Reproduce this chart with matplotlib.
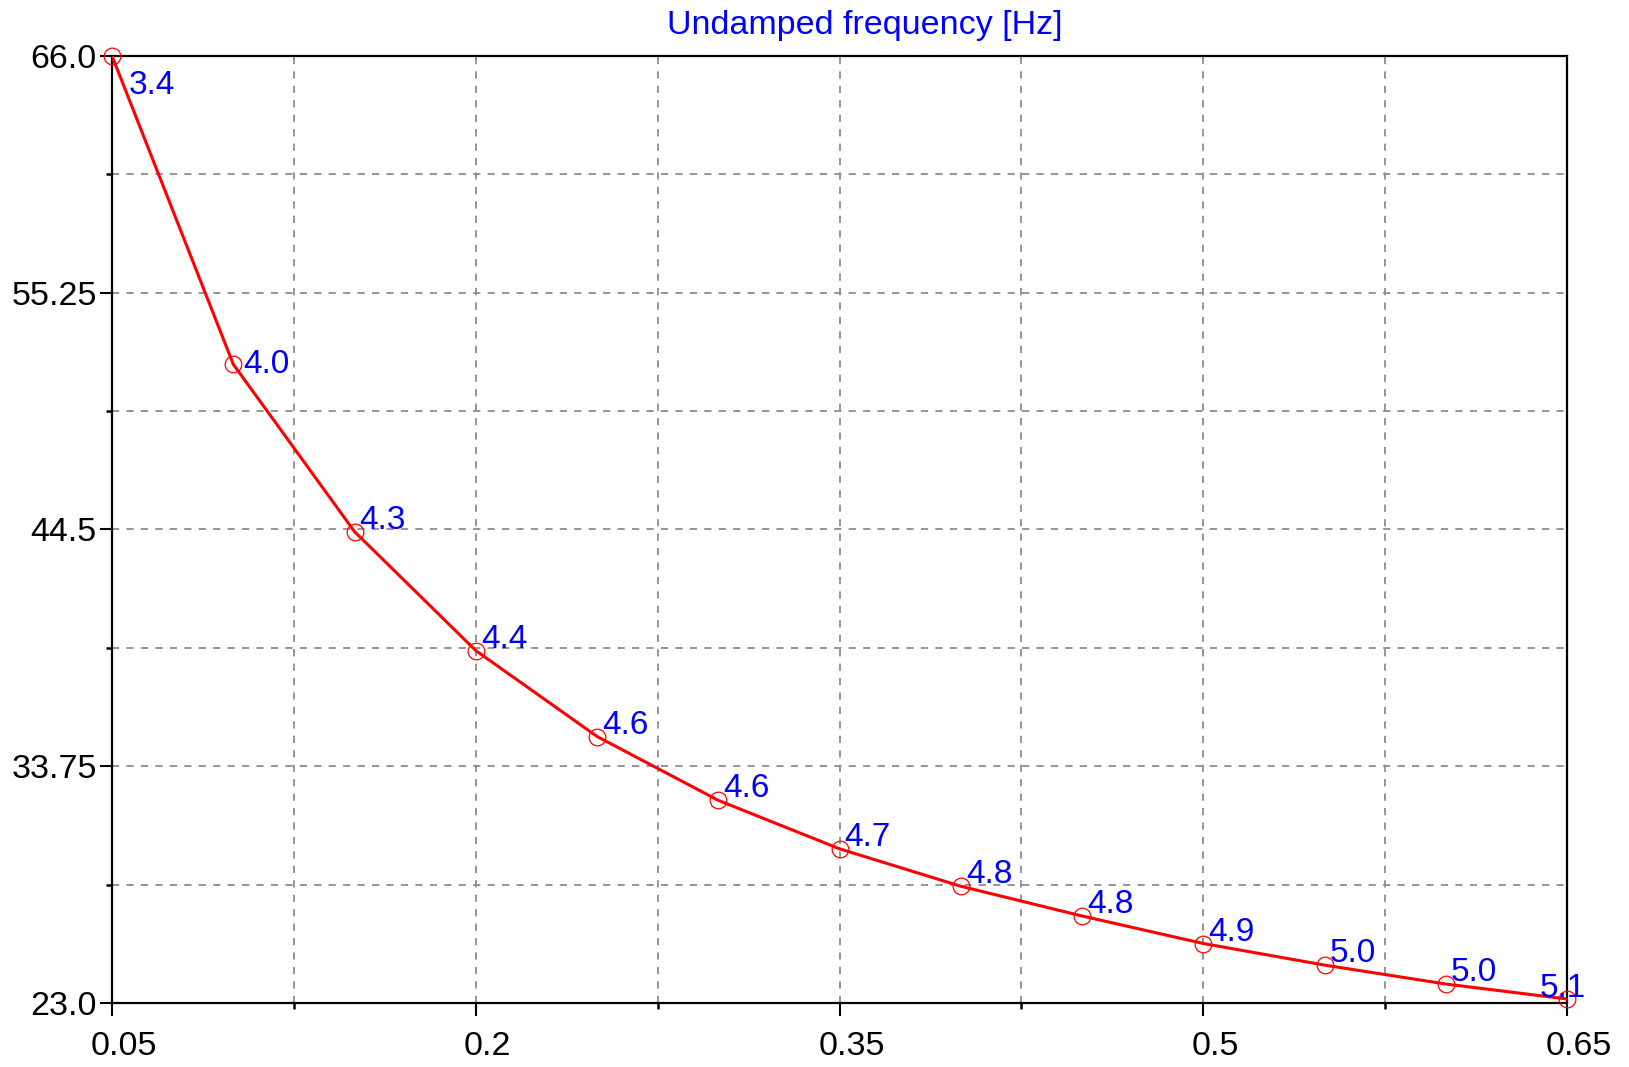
import matplotlib.pyplot as plt
import matplotlib.transforms as mtransforms
from matplotlib.ticker import FixedLocator, FixedFormatter

plt.rcParams['font.family'] = ['Liberation Sans', 'DejaVu Sans']

# data
x_vals = [0.05, 0.10, 0.15, 0.20, 0.25, 0.30, 0.35, 0.40, 0.45, 0.50, 0.55, 0.60, 0.65]
y_vals = [66.0, 52.0, 44.4, 39.0, 35.1, 32.2, 30.0, 28.3, 26.95, 25.7, 24.72, 23.86, 23.18]
freq_labels = ['3.4', '4.0', '4.3', '4.4', '4.6', '4.6', '4.7', '4.8', '4.8', '4.9', '5.0', '5.0', '5.1']
x_ticks = [0.05, 0.2, 0.35, 0.5, 0.65]
x_tick_labels = ['0.05', '0.2', '0.35', '0.5', '0.65']
y_ticks = [23.0, 33.75, 44.5, 55.25, 66.0]
y_tick_labels = ['23.0', '33.75', '44.5', '55.25', '66.0']
title = 'Undamped frequency [Hz]'

fig = plt.figure(figsize=(16.29, 10.67), dpi=100)
ax = fig.add_axes([0.0688, 0.06, 0.8932, 0.8875])

ax.plot(x_vals, y_vals, color='red', lw=2.2, zorder=3)
ax.plot(x_vals, y_vals, ls='none', marker='o', ms=12, mfc='none',
        mec='red', mew=0.9, zorder=4, clip_on=False)

# label placement: above-right by default, nudged near the frame edges
for i, (x, y, s) in enumerate(zip(x_vals, y_vals, freq_labels)):
    off, va, ha = (5, 3), 'baseline', 'left'
    if i == 0:
        off, va = (17, -14), 'top'
    elif i == 1:
        off, va = (10, 0), 'center'
    elif i == len(x_vals) - 1:
        off = (-27, 2)
    ax.annotate(s, (x, y), xytext=off, textcoords='offset pixels',
                fontsize=24, color='blue', va=va, ha=ha, zorder=5)

ax.set_xlim(x_ticks[0], x_ticks[-1])
ax.set_ylim(y_ticks[0], y_ticks[-1])
ax.xaxis.set_major_locator(FixedLocator(x_ticks))
ax.xaxis.set_major_formatter(FixedFormatter(x_tick_labels))
ax.yaxis.set_major_locator(FixedLocator(y_ticks))
ax.yaxis.set_major_formatter(FixedFormatter(y_tick_labels))
x_minor = [(a + b) / 2 for a, b in zip(x_ticks[:-1], x_ticks[1:])]
y_minor = [(a + b) / 2 for a, b in zip(y_ticks[:-1], y_ticks[1:])]
ax.xaxis.set_minor_locator(FixedLocator(x_minor))
ax.yaxis.set_minor_locator(FixedLocator(y_minor))

ax.grid(True, which='both', color='#8c8c8c', ls=(0, (4, 4)), lw=1.3)
ax.tick_params(which='major', direction='out', length=9, width=1.5,
               labelsize=24.5, colors='black')
ax.tick_params(which='minor', direction='out', length=4.5, width=1.8)
ax.tick_params(axis='x', pad=11)
ax.tick_params(axis='y', pad=2)
for sp in ax.spines.values():
    sp.set_linewidth(1.6)

# x labels sit a little right of their ticks in the reference
shift = mtransforms.ScaledTranslation(12 / 100, 0, fig.dpi_scale_trans)
for lab in ax.get_xticklabels():
    lab.set_transform(lab.get_transform() + shift)

ax.set_title(title, color='blue', fontsize=24.5, pad=15.5, x=0.517)

fig.savefig('out.png', dpi=100)
